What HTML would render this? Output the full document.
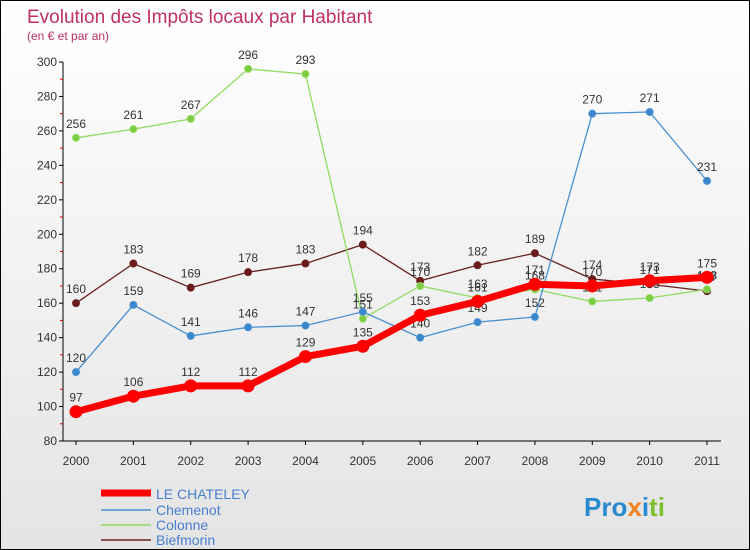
<!DOCTYPE html>
<html><head><meta charset="utf-8"><style>
body{margin:0}
#c{width:748px;height:548px;border:1px solid #000;background:linear-gradient(#fff,#e4e4e4);position:relative;font-family:"Liberation Sans",sans-serif;overflow:hidden}
</style></head><body>
<div id="c">
<svg id="s" width="748" height="548" xmlns="http://www.w3.org/2000/svg" font-family="Liberation Sans, sans-serif">
<text x="26" y="22" font-size="19" fill="#c03060">Evolution des Impôts locaux par Habitant</text>
<text x="26" y="39" font-size="12" fill="#c03060">(en € et par an)</text>
<g id="axes"></g><g id="series"></g>
<g>
<line x1="100" y1="492" x2="150" y2="492" stroke="#f00" stroke-width="7"/>
<text x="155" y="498" font-size="14" fill="#4a7fd0">LE CHATELEY</text>
<line x1="100" y1="509" x2="150" y2="509" stroke="#4a90d0" stroke-width="1.5"/>
<text x="155" y="514" font-size="14" fill="#4a7fd0">Chemenot</text>
<line x1="100" y1="524" x2="150" y2="524" stroke="#8fdc60" stroke-width="1.5"/>
<text x="155" y="529" font-size="14" fill="#4a7fd0">Colonne</text>
<line x1="100" y1="539" x2="150" y2="539" stroke="#6a2020" stroke-width="1.5"/>
<text x="155" y="544" font-size="14" fill="#4a7fd0">Biefmorin</text>
</g>
<text x="583" y="515" font-size="26" font-weight="bold"><tspan fill="#2a8ad0">Pro</tspan><tspan fill="#f08020">x</tspan><tspan fill="#2a8ad0">i</tspan><tspan fill="#80c030">ti</tspan></text>
</svg></div>
<script>
const years=[2000,2001,2002,2003,2004,2005,2006,2007,2008,2009,2010,2011];
const chateley=[97,106,112,112,129,135,153,161,171,170,173,175];
const chemenot=[120,159,141,146,147,155,140,149,152,270,271,231];
const colonne=[256,261,267,296,293,151,170,163,168,161,163,168];
const biefmorin=[160,183,169,178,183,194,173,182,189,174,171,167];
const yTicks=[80,100,120,140,160,180,200,220,240,260,280,300];
const NS="http://www.w3.org/2000/svg";
const X=i=>75+i*(706-75)/(years.length-1);
const Y=v=>440-(v-80)*(440-61)/220;
function mk(t,a,p){const e=document.createElementNS(NS,t);for(const k in a)e.setAttribute(k,a[k]);p.appendChild(e);return e;}
const ax=document.getElementById('axes');
const yl=mk('line',{x1:62,y1:Y(300),x2:62,y2:Y(80),stroke:'#000'},ax);


const xl=mk('line',{x1:62,y1:Y(80),x2:720,y2:Y(80),stroke:'#000'},ax);


yTicks.forEach((v,i)=>{
 mk('line',{x1:58,y1:Y(v),x2:62,y2:Y(v),stroke:'#000'},ax);
 if(i<yTicks.length-1)mk('line',{x1:59,y1:Y(v+10),x2:62,y2:Y(v+10),stroke:'#d00'},ax);
 const t=mk('text',{x:56,y:Y(v)+4,'font-size':12,fill:'#333','text-anchor':'end'},ax);t.textContent=v;
 
 
});
years.forEach((y,i)=>{
 mk('line',{x1:X(i),y1:440,x2:X(i),y2:444,stroke:'#000'},ax);
 const t=mk('text',{x:X(i),y:464,'font-size':12,fill:'#333','text-anchor':'middle'},ax);t.textContent=y;
 
 
});
const sg=document.getElementById('series');
function series(d,color,w,r,name,dot){
 const g=mk('g',{},sg);
 
 
 mk('polyline',{points:d.map((v,i)=>X(i)+','+Y(v)).join(' '),fill:'none',stroke:color,'stroke-width':w},g);
 d.forEach((v,i)=>{
  const c=mk('circle',{cx:X(i),cy:Y(v),r:r,fill:dot,stroke:color,'stroke-width':1},g);
  
  
  const t=mk('text',{x:X(i),y:Y(v)-10,'font-size':12,fill:'#333','text-anchor':'middle'},g);t.textContent=v;
  
  
 });
}
series(biefmorin,'#6a2020',1.3,3.5,'biefmorin-series','#6a1a1a');
series(colonne,'#8fdc60',1.3,3.5,'colonne-series','#7ccc40');
series(chemenot,'#4a90d0',1.3,3.5,'chemenot-series','#3a88cc');
series(chateley,'#f00',7,6,'le-chateley-series','#f00');
</script></body></html>
